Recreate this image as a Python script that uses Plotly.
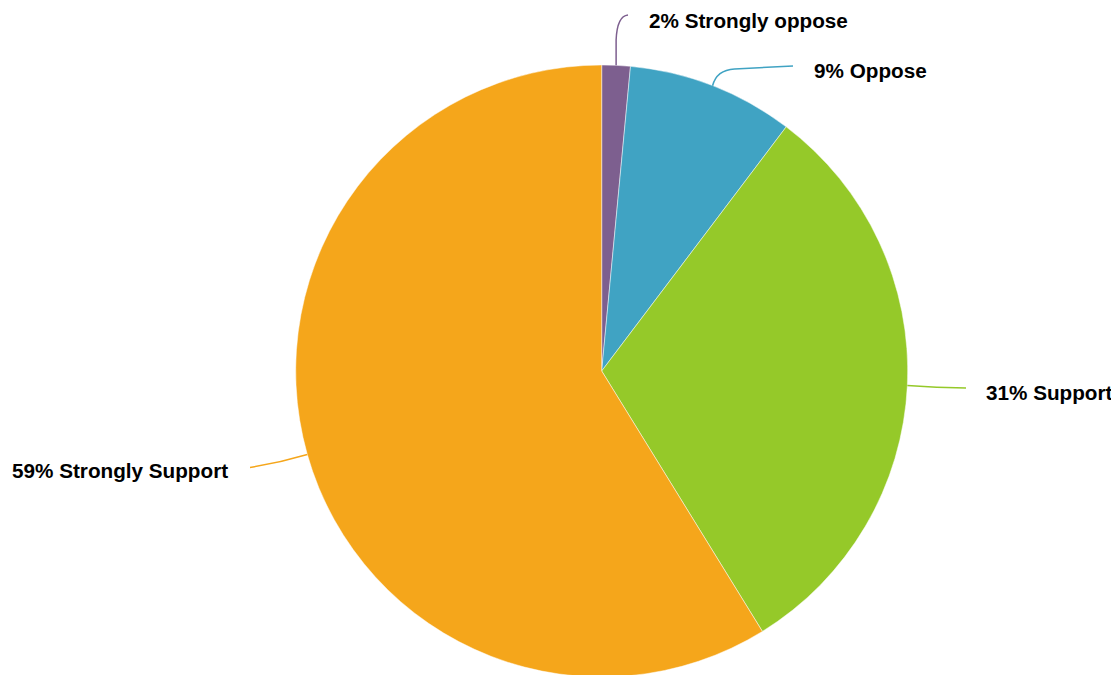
import math
import plotly.graph_objects as go

# ---- data ----
categories = ["Strongly oppose", "Oppose", "Support", "Strongly Support"]
values = [1.5, 8.8, 30.9, 58.8]
pct_labels = ["2%", "9%", "31%", "59%"]
colors = ["#7D5F8F", "#40A3C3", "#95C929", "#F5A61B"]

# ---- layout constants (pixels, as seen on screen) ----
W, H = 1119, 675
OFF = 8  # page body margin: figure origin sits 8px in from the window corner
CX, CY, R = 601.7, 371.0, 306.0

# label anchors: (text x, text y, anchor side)
label_pos = {
    "Strongly oppose": (648, 20.5, "left"),
    "Oppose": (813, 70.5, "left"),
    "Support": (985, 392, "left"),
    "Strongly Support": (229, 470.5, "right"),
}
# connector end points
conn_end = {
    "Strongly oppose": (628, 15),
    "Oppose": (793, 66),
    "Support": (966, 388),
    "Strongly Support": (250, 467.5),
}


def X(px):
    return (px - OFF) / W


def Y(py):
    return 1 - (py - OFF) / H


fig = go.Figure()
fig.add_trace(go.Pie(
    labels=categories,
    values=values,
    sort=False,
    direction="clockwise",
    rotation=0,
    textinfo="none",
    hoverinfo="label+percent",
    marker=dict(colors=colors, line=dict(color="rgba(255,255,255,0.8)", width=0.6)),
    domain=dict(x=[X(CX - R), X(CX + R)], y=[Y(CY + R), Y(CY - R)]),
    showlegend=False,
))

total = sum(values)
cum = 0.0
shapes = []
annotations = []
for cat, v, pl, col in zip(categories, values, pct_labels, colors):
    mid = (cum + v / 2) / total * 2 * math.pi
    cum += v
    sx = CX + R * math.sin(mid)
    sy = CY - R * math.cos(mid)
    ex, ey = conn_end[cat]
    if cat == "Strongly oppose":
        path = (f"M {X(sx)},{Y(sy)} L {X(sx)},{Y(ey + 25)} "
                f"Q {X(sx + 1)},{Y(ey + 1)} {X(ex)},{Y(ey)}")
    elif cat == "Oppose":
        path = (f"M {X(sx)},{Y(sy)} Q {X(sx + 4)},{Y(ey + 4)} {X(sx + 22)},{Y(ey + 3)} "
                f"L {X(ex)},{Y(ey)}")
    else:
        qx = (sx + ex) / 2
        qy = (sy + ey) / 2 + (1 if ex > sx else 2)
        path = f"M {X(sx)},{Y(sy)} Q {X(qx)},{Y(qy)} {X(ex)},{Y(ey)}"
    shapes.append(dict(type="path", xref="paper", yref="paper", path=path,
                       line=dict(color=col, width=1.5)))
    tx, ty, side = label_pos[cat]
    annotations.append(dict(
        x=X(tx), y=Y(ty), xref="paper", yref="paper",
        xanchor=side, yanchor="middle", showarrow=False, borderpad=0,
        text=f"{pl} {cat}",
        font=dict(family="Liberation Sans, Arial, sans-serif", size=20.7,
                  color="#000000", weight="bold"),
    ))

fig.update_layout(
    width=W, height=H,
    margin=dict(l=0, r=0, t=0, b=0),
    paper_bgcolor="white",
    plot_bgcolor="white",
    shapes=shapes,
    annotations=annotations,
)

fig.write_html("out.html")
